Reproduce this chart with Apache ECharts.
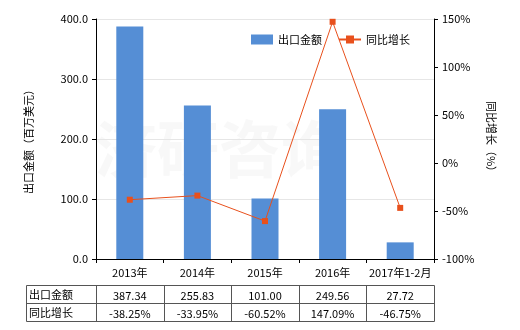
<!DOCTYPE html>
<html><head><meta charset="utf-8">
<script src="https://cdn.jsdelivr.net/npm/echarts@6/dist/echarts.min.js"></script>
<style>html,body{margin:0;padding:0;background:#fff}#c{width:520px;height:330px}</style>
</head><body><div id="c"></div>
<script>
var categories = ['2013年','2014年','2015年','2016年','2017年1-2月'];
var exportValues = [387.34, 255.83, 101.00, 249.56, 27.72];
var growthValues = [-38.25, -33.95, -60.52, 147.09, -46.75];
var seriesNames = ['出口金额','同比增长'];
var leftTicks = {min:0, max:400, interval:100};
var rightTicks = {min:-100, max:150, interval:50};

var FONT = '"Noto Sans CJK SC", sans-serif';
var gl = 96, gr = 434, gt = 19, gb = 259;
var chart = echarts.init(document.getElementById('c'));

var g = [];
// watermark
g.push({type:'text', left:95, top:118, z:0, style:{text:'济研咨询', font:'bold 62px '+FONT, fill:'rgba(200,200,200,0.12)'}});
// table
var tTop = 285, rh = 18, tLeft = 26;
var cw = (gr-gl)/categories.length;
var border = '#555';
g.push({type:'rect', shape:{x:tLeft+0.5,y:tTop+0.5,width:gr-tLeft,height:rh*2}, style:{fill:'none',stroke:border,lineWidth:1}});
g.push({type:'line', shape:{x1:tLeft,y1:tTop+rh+0.5,x2:gr,y2:tTop+rh+0.5}, style:{stroke:border,lineWidth:1}});
g.push({type:'line', shape:{x1:gl+0.5,y1:tTop,x2:gl+0.5,y2:tTop+rh*2}, style:{stroke:border,lineWidth:1}});
for (var i=1;i<categories.length;i++){
  var x = Math.round(gl+cw*i)+0.5;
  g.push({type:'line', shape:{x1:x,y1:tTop,x2:x,y2:tTop+rh*2}, style:{stroke:border,lineWidth:1}});
}
var rows = [
  {name:seriesNames[0], vals:exportValues.map(function(v){return v.toFixed(2);})},
  {name:seriesNames[1], vals:growthValues.map(function(v){return v.toFixed(2)+'%';})}
];
rows.forEach(function(r,ri){
  var cy = tTop + rh*ri + rh/2 + 1;
  g.push({type:'text', x:tLeft+3, y:cy, style:{text:r.name, font:'11px '+FONT, fill:'#000', textVerticalAlign:'middle', verticalAlign:'middle'}});
  r.vals.forEach(function(v,ci){
    g.push({type:'text', x:gl+cw*(ci+0.5), y:cy+1, style:{text:v, font:'11px '+FONT, fill:'#000', textAlign:'center', align:'center', textVerticalAlign:'middle', verticalAlign:'middle'}});
  });
});

chart.setOption({
  animation:false,
  textStyle:{fontFamily:FONT},
  grid:{left:gl, right:520-gr, top:gt, bottom:330-gb, containLabel:false},
  legend:{
    top:29, left:246, itemGap:16, itemWidth:22, itemHeight:10,
    textStyle:{fontSize:11, color:'#000'},
    data:[{name:seriesNames[0], icon:'rect'},{name:seriesNames[1]}]
  },
  xAxis:{
    type:'category', data:categories,
    axisLine:{lineStyle:{color:'#000'}},
    axisTick:{show:true, alignWithLabel:false, length:4, lineStyle:{color:'#000'}},
    axisLabel:{color:'#000', fontSize:11, margin:8, interval:0}
  },
  yAxis:[{
    type:'value', min:leftTicks.min, max:leftTicks.max, interval:leftTicks.interval,
    name:'出口金额（百万美元）', nameLocation:'middle', nameGap:62, nameRotate:90,
    nameTextStyle:{fontSize:11, color:'#000'},
    axisLine:{show:true, lineStyle:{color:'#000'}},
    axisTick:{show:true, length:4, lineStyle:{color:'#000'}},
    axisLabel:{color:'#000', fontSize:11, formatter:function(v){return v.toFixed(1);}},
    splitLine:{show:true, lineStyle:{color:'#e6e6e6'}}
  },{
    type:'value', min:rightTicks.min, max:rightTicks.max, interval:rightTicks.interval,
    name:'同比增长（%）', nameLocation:'middle', nameGap:52, nameRotate:-90,
    nameTextStyle:{fontSize:11, color:'#000'},
    axisLine:{show:true, lineStyle:{color:'#000'}},
    axisTick:{show:true, length:4, lineStyle:{color:'#000'}},
    axisLabel:{color:'#000', fontSize:11, formatter:'{value}%'},
    splitLine:{show:false}
  }],
  series:[{
    name:seriesNames[0], type:'bar', data:exportValues, barWidth:27,
    itemStyle:{color:'#558ED5'}, z:2
  },{
    name:seriesNames[1], type:'line', yAxisIndex:1, data:growthValues,
    symbol:'rect', symbolSize:6,
    lineStyle:{color:'#E8501C', width:1},
    itemStyle:{color:'#E8501C'}, z:3
  }],
  graphic:g
});
</script></body></html>
